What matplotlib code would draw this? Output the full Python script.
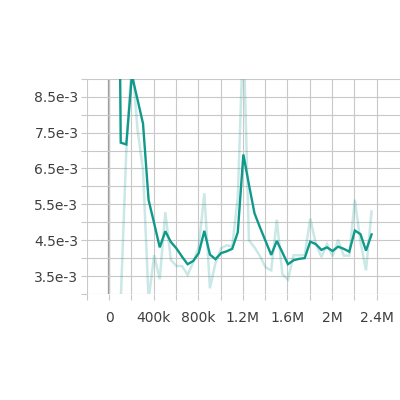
import numpy as np
import matplotlib
matplotlib.use("Agg")
import matplotlib.pyplot as plt

# training steps (logged points)
steps = [55000, 105000, 155000, 205000, 255000, 305000, 355000, 405000, 455000, 505000,
         555000, 605000, 655000, 705000, 755000, 805000, 855000, 905000, 955000, 1005000,
         1055000, 1105000, 1155000, 1205000, 1255000, 1305000, 1355000, 1405000, 1455000, 1505000,
         1555000, 1605000, 1655000, 1705000, 1755000, 1805000, 1855000, 1905000, 1955000, 2005000,
         2055000, 2105000, 2155000, 2205000, 2255000, 2305000, 2355000]

# smoothed series (x 1e-3)
smoothed = [25.0, 7.22, 7.17, 9.10, 8.43, 7.75, 5.62, 4.97, 4.30, 4.75,
            4.45, 4.27, 4.04, 3.83, 3.92, 4.14, 4.76, 4.10, 3.97, 4.14,
            4.19, 4.26, 4.72, 6.89, 6.05, 5.25, 4.85, 4.47, 4.09, 4.48,
            4.16, 3.83, 3.94, 3.98, 4.00, 4.46, 4.39, 4.23, 4.30, 4.20,
            4.32, 4.26, 4.18, 4.77, 4.67, 4.21, 4.66]

# raw series (x 1e-3)
raw = [np.nan, 2.8, 7.0, 9.6, 7.6, 6.45, 2.85, 4.08, 3.41, 5.28,
       3.95, 3.78, 3.78, 3.53, 3.88, 4.32, 5.81, 3.16, 3.87, 4.27,
       4.36, 4.32, 5.7, 10.4, 4.5, 4.3, 4.05, 3.74, 3.66, 5.07,
       3.55, 3.40, 4.08, 4.08, 4.08, 5.10, 4.40, 4.03, 4.39, 4.05,
       4.51, 4.07, 4.07, 5.63, 4.46, 3.66, 5.30]

x_ticks = [-200000, 0, 200000, 400000, 600000, 800000, 1000000, 1200000, 1400000,
           1600000, 1800000, 2000000, 2200000, 2400000]
x_tick_labels = ['', '0', '', '400k', '', '800k', '', '1.2M', '', '1.6M', '', '2M', '', '2.4M']

y_ticks = [0.0030, 0.0035, 0.0040, 0.0045, 0.0050, 0.0055, 0.0060, 0.0065,
           0.0070, 0.0075, 0.0080, 0.0085, 0.0090]
y_tick_labels = ['', '3.5e-3', '', '4.5e-3', '', '5.5e-3', '', '6.5e-3',
                 '', '7.5e-3', '', '8.5e-3', '']

color = '#10998a'
grid_color = '#c8c8c8'
text_color = '#3f3f3f'

fig = plt.figure(figsize=(4, 4), dpi=100)
ax = fig.add_axes([0.2168, 0.265, 0.7832, 0.538])

x = np.array(steps, dtype=float)
ax.plot(x, np.array(raw) * 1e-3, color=color, alpha=0.22, lw=1.8, zorder=3,
        solid_joinstyle='miter')
ax.plot(x, np.array(smoothed) * 1e-3, color=color, lw=1.7, zorder=4,
        solid_joinstyle='miter')

ax.set_xlim(-200000, 2610000)
ax.set_ylim(0.0030, 0.0090)

ax.set_xticks(x_ticks)
ax.set_xticklabels(x_tick_labels)
ax.set_yticks(y_ticks)
ax.set_yticklabels(y_tick_labels)

ax.grid(True, color=grid_color, lw=0.8, zorder=0)
ax.axvline(0, color='#9a9a9a', lw=1.6, zorder=1)

for s in ['top', 'right', 'bottom', 'left']:
    ax.spines[s].set_visible(False)

ax.tick_params(axis='both', colors=grid_color, labelcolor=text_color,
               labelsize=10, width=0.8, length=4)
ax.tick_params(axis='x', pad=8)
ax.tick_params(axis='y', pad=2)

fig.savefig('out.png', dpi=100)
